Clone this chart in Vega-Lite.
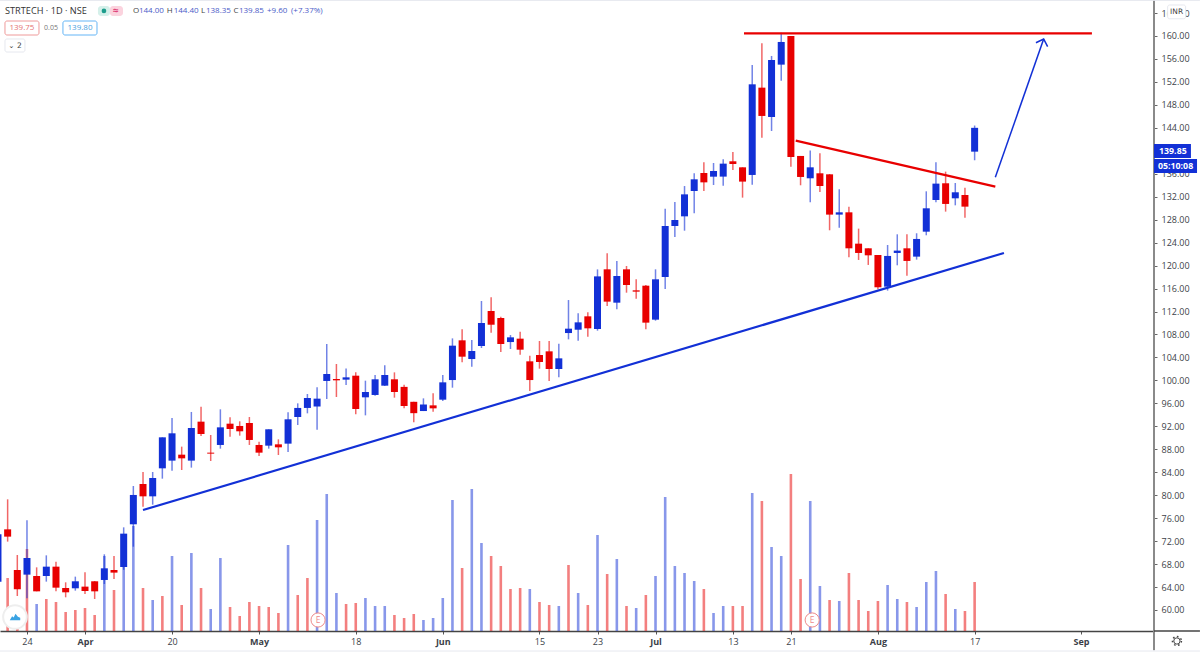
{
  "$schema": "https://vega.github.io/schema/vega-lite/v6.json",
  "description": "STRTECH daily candles with volume and hand drawn trend lines",
  "width": 1154,
  "height": 631,
  "padding": {"left": 0, "top": 0, "right": 46, "bottom": 25},
  "autosize": {"type": "none"},
  "background": "white",
  "config": {"view": {"stroke": null}, "text": {"font": "Open Sans"}, "axis": {"labelFont": "Open Sans"}},
  "datasets": {
    "candles": [
      {"bar":-3,"open":64.94,"high":73.94,"low":64.07,"close":73.18,"dir":"up","volume":0,"volDir":"up"},
      {"bar":-2,"open":74.05,"high":79.28,"low":71.91,"close":72.78,"dir":"down","volume":53000,"volDir":"down"},
      {"bar":-1,"open":66.97,"high":69.58,"low":62.44,"close":63.6,"dir":"down","volume":4000,"volDir":"down"},
      {"bar":0,"open":66.16,"high":75.62,"low":62.03,"close":69.06,"dir":"up","volume":82000,"volDir":"down"},
      {"bar":1,"open":65.92,"high":67.43,"low":63.25,"close":63.25,"dir":"down","volume":27000,"volDir":"up"},
      {"bar":2,"open":65.92,"high":69.52,"low":64.94,"close":67.55,"dir":"up","volume":32000,"volDir":"down"},
      {"bar":3,"open":67.55,"high":68.42,"low":63.25,"close":63.89,"dir":"down","volume":29000,"volDir":"down"},
      {"bar":4,"open":63.83,"high":64.82,"low":62.21,"close":63.08,"dir":"down","volume":19000,"volDir":"down"},
      {"bar":5,"open":63.78,"high":65.81,"low":63.37,"close":65.0,"dir":"up","volume":21000,"volDir":"down"},
      {"bar":6,"open":64.07,"high":66.56,"low":62.79,"close":63.31,"dir":"down","volume":23000,"volDir":"down"},
      {"bar":7,"open":65.0,"high":65.05,"low":61.92,"close":63.25,"dir":"down","volume":16000,"volDir":"down"},
      {"bar":8,"open":65.23,"high":69.7,"low":64.53,"close":67.26,"dir":"up","volume":75000,"volDir":"up"},
      {"bar":9,"open":66.97,"high":69.41,"low":65.4,"close":66.51,"dir":"down","volume":41000,"volDir":"down"},
      {"bar":10,"open":67.49,"high":74.4,"low":67.0,"close":73.3,"dir":"up","volume":65000,"volDir":"up"},
      {"bar":11,"open":74.93,"high":81.6,"low":71.03,"close":80.04,"dir":"up","volume":105000,"volDir":"up"},
      {"bar":12,"open":81.95,"high":84.04,"low":78.0,"close":79.8,"dir":"down","volume":43000,"volDir":"down"},
      {"bar":13,"open":79.8,"high":84.04,"low":78.35,"close":83.0,"dir":"up","volume":31000,"volDir":"up"},
      {"bar":14,"open":84.68,"high":90.08,"low":82.88,"close":90.08,"dir":"up","volume":35000,"volDir":"down"},
      {"bar":15,"open":86.02,"high":93.45,"low":84.27,"close":90.78,"dir":"up","volume":75000,"volDir":"up"},
      {"bar":16,"open":87.06,"high":88.46,"low":84.39,"close":86.42,"dir":"down","volume":26000,"volDir":"down"},
      {"bar":17,"open":86.02,"high":94.5,"low":84.8,"close":91.71,"dir":"up","volume":78000,"volDir":"up"},
      {"bar":18,"open":92.81,"high":95.42,"low":90.31,"close":90.66,"dir":"down","volume":43000,"volDir":"down"},
      {"bar":19,"open":87.41,"high":90.49,"low":85.96,"close":87.24,"dir":"down","volume":22000,"volDir":"up"},
      {"bar":20,"open":88.75,"high":94.96,"low":88.11,"close":91.82,"dir":"up","volume":73000,"volDir":"up"},
      {"bar":21,"open":92.46,"high":93.57,"low":90.2,"close":91.53,"dir":"down","volume":24000,"volDir":"down"},
      {"bar":22,"open":92.06,"high":92.87,"low":90.37,"close":91.13,"dir":"down","volume":15000,"volDir":"down"},
      {"bar":23,"open":92.58,"high":93.62,"low":88.75,"close":89.62,"dir":"down","volume":29000,"volDir":"down"},
      {"bar":24,"open":88.75,"high":89.33,"low":86.83,"close":87.41,"dir":"down","volume":25000,"volDir":"down"},
      {"bar":25,"open":88.63,"high":91.48,"low":88.11,"close":91.48,"dir":"up","volume":24000,"volDir":"down"},
      {"bar":26,"open":88.86,"high":89.73,"low":87.0,"close":88.34,"dir":"down","volume":18000,"volDir":"down"},
      {"bar":27,"open":88.98,"high":94.44,"low":87.53,"close":93.22,"dir":"up","volume":86000,"volDir":"up"},
      {"bar":28,"open":93.62,"high":96.0,"low":92.23,"close":95.2,"dir":"up","volume":36000,"volDir":"down"},
      {"bar":29,"open":95.2,"high":97.63,"low":94.26,"close":96.93,"dir":"up","volume":53000,"volDir":"down"},
      {"bar":30,"open":95.45,"high":98.79,"low":91.4,"close":96.82,"dir":"up","volume":111000,"volDir":"up"},
      {"bar":31,"open":99.9,"high":106.34,"low":96.76,"close":101.11,"dir":"up","volume":137000,"volDir":"up"},
      {"bar":32,"open":100.24,"high":102.86,"low":97.11,"close":100.01,"dir":"down","volume":38000,"volDir":"up"},
      {"bar":33,"open":100.13,"high":102.05,"low":99.2,"close":100.53,"dir":"up","volume":27000,"volDir":"down"},
      {"bar":34,"open":100.82,"high":101.4,"low":94.09,"close":95.02,"dir":"down","volume":28000,"volDir":"down"},
      {"bar":35,"open":97.05,"high":99.95,"low":93.91,"close":97.98,"dir":"up","volume":33000,"volDir":"up"},
      {"bar":36,"open":97.46,"high":100.94,"low":97.34,"close":100.19,"dir":"up","volume":25000,"volDir":"up"},
      {"bar":37,"open":99.08,"high":102.62,"low":99.02,"close":100.94,"dir":"up","volume":25000,"volDir":"up"},
      {"bar":38,"open":100.19,"high":101.4,"low":96.99,"close":97.98,"dir":"down","volume":16000,"volDir":"down"},
      {"bar":39,"open":98.87,"high":99.26,"low":95.13,"close":95.54,"dir":"down","volume":13000,"volDir":"down"},
      {"bar":40,"open":96.27,"high":96.3,"low":92.72,"close":94.29,"dir":"down","volume":17000,"volDir":"down"},
      {"bar":41,"open":94.66,"high":96.87,"low":94.66,"close":95.8,"dir":"up","volume":11000,"volDir":"up"},
      {"bar":42,"open":95.65,"high":97.74,"low":94.55,"close":95.13,"dir":"down","volume":13000,"volDir":"up"},
      {"bar":43,"open":96.64,"high":100.94,"low":96.41,"close":99.66,"dir":"up","volume":33000,"volDir":"up"},
      {"bar":44,"open":100.06,"high":107.32,"low":98.73,"close":106.05,"dir":"up","volume":131000,"volDir":"up"},
      {"bar":45,"open":106.98,"high":108.89,"low":103.14,"close":104.13,"dir":"down","volume":63000,"volDir":"down"},
      {"bar":46,"open":103.72,"high":107.03,"low":102.39,"close":105.12,"dir":"up","volume":142000,"volDir":"up"},
      {"bar":47,"open":105.99,"high":113.83,"low":105.64,"close":110.0,"dir":"up","volume":88000,"volDir":"up"},
      {"bar":48,"open":112.09,"high":114.47,"low":108.31,"close":109.7,"dir":"down","volume":75000,"volDir":"down"},
      {"bar":49,"open":110.87,"high":111.1,"low":104.94,"close":106.34,"dir":"down","volume":65000,"volDir":"down"},
      {"bar":50,"open":106.68,"high":107.9,"low":105.47,"close":107.5,"dir":"up","volume":42000,"volDir":"down"},
      {"bar":51,"open":107.27,"high":108.48,"low":104.48,"close":105.35,"dir":"down","volume":43000,"volDir":"down"},
      {"bar":52,"open":103.32,"high":104.3,"low":98.15,"close":100.06,"dir":"down","volume":42000,"volDir":"up"},
      {"bar":53,"open":104.42,"high":106.86,"low":102.04,"close":103.2,"dir":"down","volume":29000,"volDir":"down"},
      {"bar":54,"open":105.06,"high":106.86,"low":99.89,"close":101.98,"dir":"down","volume":26000,"volDir":"down"},
      {"bar":55,"open":101.98,"high":106.39,"low":100.53,"close":103.84,"dir":"up","volume":25000,"volDir":"up"},
      {"bar":56,"open":108.25,"high":114.0,"low":107.15,"close":109.01,"dir":"up","volume":66000,"volDir":"down"},
      {"bar":57,"open":108.83,"high":111.68,"low":106.92,"close":110.11,"dir":"up","volume":38000,"volDir":"up"},
      {"bar":58,"open":111.16,"high":111.85,"low":107.61,"close":109.07,"dir":"down","volume":26000,"volDir":"down"},
      {"bar":59,"open":108.95,"high":119.34,"low":108.66,"close":118.12,"dir":"up","volume":96000,"volDir":"up"},
      {"bar":60,"open":119.35,"high":122.13,"low":112.96,"close":113.72,"dir":"down","volume":57000,"volDir":"down"},
      {"bar":61,"open":113.54,"high":120.8,"low":112.38,"close":118.19,"dir":"up","volume":72000,"volDir":"up"},
      {"bar":62,"open":119.35,"high":119.93,"low":115.28,"close":116.62,"dir":"down","volume":25000,"volDir":"down"},
      {"bar":63,"open":115.69,"high":117.61,"low":114.24,"close":115.46,"dir":"down","volume":23000,"volDir":"up"},
      {"bar":64,"open":116.5,"high":116.62,"low":108.9,"close":110.06,"dir":"down","volume":36000,"volDir":"down"},
      {"bar":65,"open":110.58,"high":119.35,"low":110.4,"close":117.61,"dir":"up","volume":55000,"volDir":"up"},
      {"bar":66,"open":118.01,"high":129.92,"low":115.92,"close":126.9,"dir":"up","volume":134000,"volDir":"up"},
      {"bar":67,"open":126.9,"high":131.08,"low":125.0,"close":127.94,"dir":"up","volume":65000,"volDir":"up"},
      {"bar":68,"open":128.58,"high":133.86,"low":126.08,"close":132.41,"dir":"up","volume":58000,"volDir":"up"},
      {"bar":69,"open":132.99,"high":136.07,"low":129.1,"close":135.03,"dir":"up","volume":50000,"volDir":"up"},
      {"bar":70,"open":136.13,"high":137.99,"low":132.99,"close":134.5,"dir":"down","volume":42000,"volDir":"down"},
      {"bar":71,"open":135.49,"high":137.87,"low":134.04,"close":136.48,"dir":"up","volume":18000,"volDir":"up"},
      {"bar":72,"open":135.5,"high":138.52,"low":133.93,"close":137.76,"dir":"up","volume":25000,"volDir":"up"},
      {"bar":73,"open":138.17,"high":139.79,"low":136.66,"close":137.7,"dir":"down","volume":25000,"volDir":"down"},
      {"bar":74,"open":137.12,"high":137.12,"low":131.84,"close":134.63,"dir":"down","volume":25000,"volDir":"down"},
      {"bar":75,"open":135.79,"high":154.95,"low":134.1,"close":151.58,"dir":"up","volume":138000,"volDir":"up"},
      {"bar":76,"open":151.0,"high":158.72,"low":142.29,"close":146.07,"dir":"down","volume":130000,"volDir":"down"},
      {"bar":77,"open":145.89,"high":156.52,"low":143.45,"close":155.82,"dir":"up","volume":84000,"volDir":"up"},
      {"bar":78,"open":155.01,"high":160.58,"low":152.22,"close":158.96,"dir":"up","volume":75000,"volDir":"up"},
      {"bar":79,"open":160.0,"high":160.0,"low":137.24,"close":138.92,"dir":"down","volume":157000,"volDir":"down"},
      {"bar":80,"open":139.1,"high":139.1,"low":133.99,"close":135.44,"dir":"down","volume":52000,"volDir":"down"},
      {"bar":81,"open":135.21,"high":140.03,"low":131.03,"close":137.12,"dir":"up","volume":130000,"volDir":"up"},
      {"bar":82,"open":136.08,"high":139.56,"low":132.83,"close":133.87,"dir":"down","volume":45000,"volDir":"up"},
      {"bar":83,"open":135.9,"high":135.96,"low":126.15,"close":128.88,"dir":"down","volume":31000,"volDir":"down"},
      {"bar":84,"open":128.88,"high":133.29,"low":126.61,"close":129.28,"dir":"up","volume":30000,"volDir":"up"},
      {"bar":85,"open":129.28,"high":130.27,"low":121.44,"close":123.01,"dir":"down","volume":58000,"volDir":"down"},
      {"bar":86,"open":123.82,"high":126.44,"low":120.98,"close":122.2,"dir":"down","volume":31000,"volDir":"down"},
      {"bar":87,"open":123.01,"high":123.01,"low":120.11,"close":121.79,"dir":"down","volume":20000,"volDir":"down"},
      {"bar":88,"open":121.85,"high":121.85,"low":115.87,"close":116.22,"dir":"down","volume":30000,"volDir":"down"},
      {"bar":89,"open":116.33,"high":123.59,"low":115.64,"close":121.68,"dir":"up","volume":46000,"volDir":"up"},
      {"bar":90,"open":122.2,"high":125.45,"low":120.05,"close":122.61,"dir":"up","volume":32000,"volDir":"up"},
      {"bar":91,"open":123.01,"high":125.45,"low":118.25,"close":120.81,"dir":"down","volume":29000,"volDir":"down"},
      {"bar":92,"open":121.56,"high":125.63,"low":121.04,"close":124.64,"dir":"up","volume":24000,"volDir":"up"},
      {"bar":93,"open":125.91,"high":132.94,"low":125.28,"close":129.98,"dir":"up","volume":49000,"volDir":"up"},
      {"bar":94,"open":131.43,"high":137.99,"low":131.03,"close":134.28,"dir":"up","volume":60000,"volDir":"up"},
      {"bar":95,"open":134.34,"high":136.37,"low":129.4,"close":130.74,"dir":"down","volume":37000,"volDir":"down"},
      {"bar":96,"open":131.72,"high":134.39,"low":130.5,"close":132.77,"dir":"up","volume":22000,"volDir":"up"},
      {"bar":97,"open":132.3,"high":133.58,"low":128.35,"close":130.27,"dir":"down","volume":20000,"volDir":"down"},
      {"bar":98,"open":144.0,"high":144.4,"low":138.35,"close":139.85,"dir":"up","volume":49000,"volDir":"down"}
    ],
    "trend": [
      {"series":"support","dir":"up","bar":12.0,"price":77.42},
      {"series":"support","dir":"up","bar":101.03,"price":122.19},
      {"series":"top","dir":"down","bar":74.15,"price":160.47},
      {"series":"top","dir":"down","bar":110.13,"price":160.47},
      {"series":"neckline","dir":"down","bar":79.5,"price":141.76},
      {"series":"neckline","dir":"down","bar":100.14,"price":133.75}
    ],
    "arrow": [
      {"series":"shaft","dir":"up","bar":100.14,"price":135.38},
      {"series":"shaft","dir":"up","bar":105.14,"price":159.48},
      {"series":"head","dir":"up","bar":104.34,"price":158.83},
      {"series":"head","dir":"up","bar":105.14,"price":159.48},
      {"series":"head","dir":"up","bar":105.55,"price":158.14}
    ],
    "frame": [
      {"series":"timeAxisEnd","bar":116.55,"price":56.34},
      {"series":"timeAxisEnd","bar":121.3,"price":56.34},
      {"series":"priceAxis","bar":116.55,"price":166.27},
      {"series":"priceAxis","bar":116.55,"price":53.0}
    ],
    "edges": [
      {"series":"bottom","bar":-2.79,"price":52.85},
      {"series":"bottom","bar":121.3,"price":52.85},
      {"series":"top","bar":-2.79,"price":166.2},
      {"series":"top","bar":121.3,"price":166.2}
    ],
    "earnings": [
      {"bar":30.1,"price":58.26,"label":"E"},
      {"bar":81.2,"price":58.26,"label":"E"}
    ],
    "logo": [{"bar":-1.24,"price":58.78}],
    "gear": [{"bar":118.92,"price":54.6}],
    "boxes": [
      {"group":"flag","bar":116.55,"bar2":120.37,"price":141.18,"price2":138.75},
      {"group":"flag","bar":116.55,"bar2":121.0,"price":138.57,"price2":136.13},
      {"group":"red","bar":-2.275,"bar2":1.24,"price":162.61,"price2":160.17},
      {"group":"blue","bar":3.72,"bar2":7.24,"price":162.61,"price2":160.17},
      {"group":"plain","bar":-2.275,"bar2":-0.21,"price":159.48,"price2":157.21},
      {"group":"plain","bar":117.96,"bar2":119.82,"price":165.4,"price2":163.0},
      {"group":"pillGreen","bar":7.34,"bar2":8.58,"price":165.23,"price2":163.48},
      {"group":"pillPink","bar":8.58,"bar2":9.93,"price":165.23,"price2":163.48}
    ],
    "labels": [
      {"group":"title","label":"STRTECH · 1D · NSE","bar":-2.275,"price":164.36},
      {"group":"ohlcKey","label":"O","bar":10.96,"price":164.36},
      {"group":"ohlcKey","label":"H","bar":14.45,"price":164.36},
      {"group":"ohlcKey","label":"L","bar":17.99,"price":164.36},
      {"group":"ohlcKey","label":"C","bar":21.37,"price":164.36},
      {"group":"ohlcValue","label":"144.00","bar":11.58,"price":164.36},
      {"group":"ohlcValue","label":"144.40","bar":15.17,"price":164.36},
      {"group":"ohlcValue","label":"138.35","bar":18.51,"price":164.36},
      {"group":"ohlcValue","label":"139.85","bar":21.92,"price":164.36},
      {"group":"ohlcValue","label":"+9.60","bar":24.82,"price":164.36},
      {"group":"ohlcValue","label":"(+7.37%)","bar":27.3,"price":164.36},
      {"group":"chipRed","label":"139.75","bar":-0.52,"price":161.39},
      {"group":"chipBlue","label":"139.80","bar":5.48,"price":161.39},
      {"group":"chipGray","label":"0.05","bar":2.48,"price":161.39},
      {"group":"chipDark","label":"⌄ 2","bar":-1.24,"price":158.26},
      {"group":"chipDark","label":"INR","bar":118.89,"price":164.2},
      {"group":"flagText","label":"139.85","bar":118.5,"price":139.97},
      {"group":"flagText","label":"05:10:08","bar":118.78,"price":137.35}
    ],
    "pillDot": [{"bar":7.96,"price":164.36}],
    "pillWave": [{"bar":9.2,"price":164.3,"label":"≈"}]
  },
  "encoding": {
    "x": {
      "field": "bar",
      "type": "quantitative",
      "title": null,
      "scale": {"domain": [-2.79, 116.55], "nice": false, "zero": false, "padding": 0},
      "axis": {
        "orient": "bottom",
        "grid": false,
        "labelOverlap": false,
        "tickCount": 30,
        "values": [0, 6, 15, 24, 34, 43, 53, 59, 65, 73, 79, 88, 98, 109],
        "labelExpr": "{'0':'24','6':'Apr','15':'20','24':'May','34':'18','43':'Jun','53':'15','59':'23','65':'Jul','73':'13','79':'21','88':'Aug','98':'17','109':'Sep'}[datum.value]",
        "labelFontWeight": {"condition": {"test": "indexof([6,24,43,65,88,109], datum.value) >= 0", "value": "bold"}, "value": "normal"},
        "labelFontSize": 9,
        "labelColor": "#3c3f48",
        "labelPadding": 3,
        "tickSize": 3,
        "tickColor": "#555555",
        "domainColor": "#444444",
        "domainWidth": 1.5
      }
    }
  },
  "layer": [
    {
      "data": {"name": "candles"},
      "mark": {"type": "bar", "size": 2.6, "opacity": 0.5, "orient": "vertical"},
      "encoding": {
        "y": {"field": "volume", "type": "quantitative", "stack": null, "title": null, "axis": null, "scale": {"domain": [0, 631000], "nice": false}},
        "color": {"field": "volDir", "type": "nominal", "legend": null, "scale": {"domain": ["up", "down"], "range": ["#1230d6", "#e80000"]}}
      }
    },
    {
      "layer": [
        {
          "data": {"name": "candles"},
          "mark": {"type": "rule", "strokeWidth": 1.5, "opacity": 0.6},
          "encoding": {
            "y": {
              "field": "low",
              "type": "quantitative",
              "title": null,
              "scale": {"domain": [56.34, 166.27], "nice": false, "zero": false},
              "axis": {
                "orient": "right",
                "grid": false,
                "labelOverlap": false,
                "tickCount": 30,
                "values": [60, 64, 68, 72, 76, 80, 84, 88, 92, 96, 100, 104, 108, 112, 116, 120, 124, 128, 132, 136, 140, 144, 148, 152, 156, 160, 164],
                "format": ".2f",
                "labelFontSize": 9,
                "labelColor": "#3c3f48",
                "labelPadding": 4,
                "tickSize": 3,
                "tickColor": "#666666",
                "domain": false
              }
            },
            "y2": {"field": "high"},
            "color": {"field": "dir", "type": "nominal", "legend": null, "scale": {"domain": ["up", "down"], "range": ["#1230d6", "#e80000"]}}
          }
        },
        {
          "data": {"name": "candles"},
          "mark": {"type": "bar", "size": 7, "orient": "vertical"},
          "encoding": {
            "y": {"field": "open", "type": "quantitative"},
            "y2": {"field": "close"},
            "color": {"field": "dir", "type": "nominal", "legend": null}
          }
        },
        {
          "data": {"name": "trend"},
          "mark": {"type": "line", "strokeWidth": 2.2},
          "encoding": {
            "y": {"field": "price", "type": "quantitative"},
            "detail": {"field": "series"},
            "color": {"field": "dir", "type": "nominal", "legend": null}
          }
        },
        {
          "data": {"name": "arrow"},
          "mark": {"type": "line", "strokeWidth": 1.5},
          "encoding": {
            "y": {"field": "price", "type": "quantitative"},
            "detail": {"field": "series"},
            "color": {"field": "dir", "type": "nominal", "legend": null}
          }
        },
        {
          "data": {"name": "frame"},
          "mark": {"type": "line", "strokeWidth": 2, "color": "#8a8a8a"},
          "transform": [{"filter": "datum.series == 'priceAxis'"}],
          "encoding": {
            "y": {"field": "price", "type": "quantitative"},
            "order": {"field": "price"}
          }
        },
        {
          "data": {"name": "frame"},
          "mark": {"type": "line", "strokeWidth": 1.5, "color": "#444444"},
          "transform": [{"filter": "datum.series == 'timeAxisEnd'"}],
          "encoding": {"y": {"field": "price", "type": "quantitative"}}
        },
        {
          "data": {"name": "edges"},
          "mark": {"type": "line", "strokeWidth": 1, "color": "#e6e8ef"},
          "encoding": {
            "y": {"field": "price", "type": "quantitative"},
            "detail": {"field": "series"}
          }
        },
        {
          "data": {"name": "gear"},
          "mark": {"type": "point", "shape": "circle", "filled": false, "stroke": "#444444", "strokeWidth": 1, "opacity": 1, "size": 40},
          "encoding": {"y": {"field": "price", "type": "quantitative"}}
        },
        {
          "data": {"name": "gear"},
          "mark": {"type": "point", "shape": "circle", "filled": false, "stroke": "#444444", "strokeWidth": 1.5, "strokeDash": [1.6, 2.5], "opacity": 1, "size": 80},
          "encoding": {"y": {"field": "price", "type": "quantitative"}}
        },
        {
          "data": {"name": "earnings"},
          "mark": {"type": "point", "shape": "circle", "filled": false, "fill": "white", "fillOpacity": 1, "stroke": "#ee8a8a", "strokeWidth": 1, "size": 200},
          "encoding": {"y": {"field": "price", "type": "quantitative"}}
        },
        {
          "data": {"name": "earnings"},
          "mark": {"type": "text", "color": "#ee8a8a", "fontSize": 8.5, "baseline": "middle"},
          "encoding": {"y": {"field": "price", "type": "quantitative"}, "text": {"field": "label"}}
        },
        {
          "data": {"name": "logo"},
          "mark": {"type": "point", "shape": "circle", "filled": true, "fill": "white", "opacity": 1, "stroke": "#eeeeee", "size": 560},
          "encoding": {"y": {"field": "price", "type": "quantitative"}}
        },
        {
          "data": {"name": "logo"},
          "mark": {"type": "point", "shape": "M-1,0.6 L-0.55,-0.15 L-0.25,0.1 L0.1,-0.6 L0.55,-0.05 L1,0.15 L1,0.6 Z", "filled": true, "fill": "#3aa3e3", "opacity": 1, "size": 110},
          "encoding": {"y": {"field": "price", "type": "quantitative"}}
        },
        {
          "data": {"name": "boxes"},
          "transform": [{"filter": "datum.group == 'flag'"}],
          "mark": {"type": "rect", "color": "#1230d6"},
          "encoding": {"x2": {"field": "bar2"}, "y": {"field": "price", "type": "quantitative"}, "y2": {"field": "price2"}}
        },
        {
          "data": {"name": "boxes"},
          "transform": [{"filter": "datum.group == 'red'"}],
          "mark": {"type": "rect", "fill": "white", "stroke": "#ef9a9a", "strokeWidth": 1, "cornerRadius": 2},
          "encoding": {"x2": {"field": "bar2"}, "y": {"field": "price", "type": "quantitative"}, "y2": {"field": "price2"}}
        },
        {
          "data": {"name": "boxes"},
          "transform": [{"filter": "datum.group == 'blue'"}],
          "mark": {"type": "rect", "fill": "white", "stroke": "#64b5f6", "strokeWidth": 1, "cornerRadius": 2},
          "encoding": {"x2": {"field": "bar2"}, "y": {"field": "price", "type": "quantitative"}, "y2": {"field": "price2"}}
        },
        {
          "data": {"name": "boxes"},
          "transform": [{"filter": "datum.group == 'plain'"}],
          "mark": {"type": "rect", "fill": "white", "stroke": "#e6e8ef", "strokeWidth": 1, "cornerRadius": 2},
          "encoding": {"x2": {"field": "bar2"}, "y": {"field": "price", "type": "quantitative"}, "y2": {"field": "price2"}}
        },
        {
          "data": {"name": "boxes"},
          "transform": [{"filter": "datum.group == 'pillGreen'"}],
          "mark": {"type": "rect", "color": "#d5f0ea", "cornerRadius": 3},
          "encoding": {"x2": {"field": "bar2"}, "y": {"field": "price", "type": "quantitative"}, "y2": {"field": "price2"}}
        },
        {
          "data": {"name": "boxes"},
          "transform": [{"filter": "datum.group == 'pillPink'"}],
          "mark": {"type": "rect", "color": "#fbd3de", "cornerRadius": 3},
          "encoding": {"x2": {"field": "bar2"}, "y": {"field": "price", "type": "quantitative"}, "y2": {"field": "price2"}}
        },
        {
          "data": {"name": "pillDot"},
          "mark": {"type": "point", "shape": "circle", "filled": true, "color": "#1d9d8c", "opacity": 1, "size": 22},
          "encoding": {"y": {"field": "price", "type": "quantitative"}}
        },
        {
          "data": {"name": "pillWave"},
          "mark": {"type": "text", "color": "#e0457b", "fontSize": 10, "baseline": "middle", "fontWeight": "bold"},
          "encoding": {"y": {"field": "price", "type": "quantitative"}, "text": {"field": "label"}}
        },
        {
          "data": {"name": "labels"},
          "transform": [{"filter": "datum.group == 'title'"}],
          "mark": {"type": "text", "align": "left", "baseline": "middle", "fontSize": 9.2, "color": "#333333"},
          "encoding": {"y": {"field": "price", "type": "quantitative"}, "text": {"field": "label"}}
        },
        {
          "data": {"name": "labels"},
          "transform": [{"filter": "datum.group == 'ohlcKey'"}],
          "mark": {"type": "text", "align": "left", "baseline": "middle", "fontSize": 8, "color": "#444444"},
          "encoding": {"y": {"field": "price", "type": "quantitative"}, "text": {"field": "label"}}
        },
        {
          "data": {"name": "labels"},
          "transform": [{"filter": "datum.group == 'ohlcValue'"}],
          "mark": {"type": "text", "align": "left", "baseline": "middle", "fontSize": 8, "color": "#4a5bc8"},
          "encoding": {"y": {"field": "price", "type": "quantitative"}, "text": {"field": "label"}}
        },
        {
          "data": {"name": "labels"},
          "transform": [{"filter": "datum.group == 'chipRed'"}],
          "mark": {"type": "text", "baseline": "middle", "fontSize": 8, "color": "#e57373"},
          "encoding": {"y": {"field": "price", "type": "quantitative"}, "text": {"field": "label"}}
        },
        {
          "data": {"name": "labels"},
          "transform": [{"filter": "datum.group == 'chipBlue'"}],
          "mark": {"type": "text", "baseline": "middle", "fontSize": 8, "color": "#4a9fe0"},
          "encoding": {"y": {"field": "price", "type": "quantitative"}, "text": {"field": "label"}}
        },
        {
          "data": {"name": "labels"},
          "transform": [{"filter": "datum.group == 'chipGray'"}],
          "mark": {"type": "text", "baseline": "middle", "fontSize": 7, "color": "#777777"},
          "encoding": {"y": {"field": "price", "type": "quantitative"}, "text": {"field": "label"}}
        },
        {
          "data": {"name": "labels"},
          "transform": [{"filter": "datum.group == 'chipDark'"}],
          "mark": {"type": "text", "baseline": "middle", "fontSize": 7.5, "color": "#444444", "font": "DejaVu Sans"},
          "encoding": {"y": {"field": "price", "type": "quantitative"}, "text": {"field": "label"}}
        },
        {
          "data": {"name": "labels"},
          "transform": [{"filter": "datum.group == 'flagText'"}],
          "mark": {"type": "text", "baseline": "middle", "fontSize": 8.8, "color": "white", "fontWeight": "bold"},
          "encoding": {"y": {"field": "price", "type": "quantitative"}, "text": {"field": "label"}}
        }
      ]
    }
  ],
  "resolve": {"scale": {"y": "independent"}}
}
